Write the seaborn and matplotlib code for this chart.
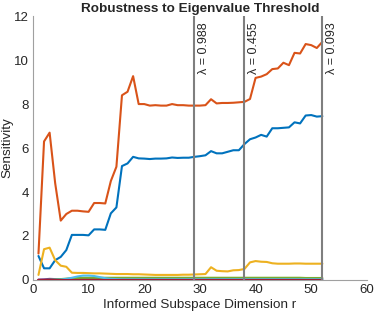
import numpy as np
import pandas as pd
import matplotlib
matplotlib.use("Agg")
import matplotlib.pyplot as plt
import seaborn as sns

# data (r = 1..52)
r = list(range(1, 53))

blue = [1.09, 0.53, 0.53, 0.9, 1.05, 1.36, 2.05, 2.05, 2.05, 2.03,
        2.3, 2.3, 2.28, 3.03, 3.3, 5.18, 5.3, 5.6, 5.53, 5.52,
        5.5, 5.52, 5.52, 5.53, 5.57, 5.55, 5.56, 5.56, 5.6, 5.63,
        5.67, 5.86, 5.76, 5.76, 5.83, 5.9, 5.9, 6.18, 6.4, 6.48,
        6.6, 6.52, 6.9, 6.9, 6.92, 6.94, 7.17, 7.12, 7.48, 7.5,
        7.43, 7.45]

orange = [1.2, 6.3, 6.7, 4.4, 2.7, 3.0, 3.15, 3.15, 3.12, 3.1,
          3.5, 3.5, 3.48, 4.5, 5.15, 8.4, 8.56, 9.27, 8.0, 8.0,
          7.93, 7.95, 7.93, 7.93, 8.0, 7.95, 7.95, 7.93, 7.93, 7.93,
          7.95, 8.22, 8.03, 8.05, 8.05, 8.06, 8.08, 8.1, 8.23, 9.19,
          9.25, 9.36, 9.59, 9.62, 9.88, 9.77, 10.33, 10.3, 10.73, 10.68,
          10.55, 10.83]

yellow = [0.23, 1.4, 1.47, 0.9, 0.65, 0.6, 0.33, 0.32, 0.32, 0.31,
          0.3, 0.3, 0.29, 0.28, 0.27, 0.27, 0.27, 0.26, 0.26, 0.25,
          0.24, 0.23, 0.23, 0.23, 0.23, 0.23, 0.24, 0.24, 0.25, 0.26,
          0.27, 0.58, 0.42, 0.4, 0.39, 0.44, 0.45, 0.5, 0.8, 0.86,
          0.83, 0.82, 0.76, 0.74, 0.74, 0.74, 0.75, 0.75, 0.74, 0.74,
          0.74, 0.74]

purple = [0.02, 0.03, 0.05, 0.04, 0.04, 0.04, 0.04, 0.04, 0.05, 0.06,
          0.06, 0.06, 0.05, 0.05, 0.04, 0.04, 0.04, 0.04, 0.04, 0.04,
          0.04, 0.04, 0.04, 0.04, 0.04, 0.04, 0.04, 0.04, 0.04, 0.04,
          0.04, 0.04, 0.04, 0.04, 0.04, 0.04, 0.04, 0.04, 0.04, 0.04,
          0.04, 0.04, 0.04, 0.04, 0.04, 0.04, 0.04, 0.04, 0.04, 0.04,
          0.04, 0.04]

green = [0.0, 0.0, 0.01, 0.02, 0.04, 0.06, 0.08, 0.09, 0.1, 0.1,
         0.1, 0.1, 0.1, 0.1, 0.1, 0.1, 0.1, 0.1, 0.1, 0.1,
         0.1, 0.1, 0.1, 0.1, 0.1, 0.1, 0.1, 0.1, 0.1, 0.1,
         0.1, 0.1, 0.1, 0.1, 0.1, 0.1, 0.1, 0.1, 0.1, 0.1,
         0.1, 0.1, 0.1, 0.1, 0.1, 0.1, 0.1, 0.1, 0.09, 0.09,
         0.09, 0.09]

lightblue = [0.0, 0.0, 0.0, 0.01, 0.02, 0.05, 0.1, 0.16, 0.2, 0.2,
             0.18, 0.13, 0.08, 0.05, 0.04, 0.03, 0.03, 0.03, 0.03, 0.03,
             0.03, 0.03, 0.03, 0.03, 0.03, 0.03, 0.03, 0.03, 0.03, 0.03,
             0.03, 0.03, 0.03, 0.03, 0.03, 0.03, 0.03, 0.03, 0.03, 0.03,
             0.03, 0.03, 0.03, 0.03, 0.03, 0.03, 0.03, 0.03, 0.03, 0.03,
             0.03, 0.03]

darkred = [0.01] * 52

thresholds = [29, 38, 52]
lambdas = ["0.988", "0.455", "0.093"]

series = {"s1": blue, "s2": orange, "s3": yellow, "s4": purple,
          "s5": green, "s6": lightblue, "s7": darkred}
colors = ["#0072BD", "#D95319", "#EDB120", "#7E2F8E",
          "#77AC30", "#4DBEEE", "#A2142F"]

df = pd.DataFrame(series)
df["r"] = r
long = df.melt(id_vars="r", var_name="series", value_name="sens")

sns.set_style("white")
plt.rcParams['font.family'] = ['Liberation Sans', 'DejaVu Sans']

fig = plt.figure(figsize=(3.74, 3.16), dpi=100)
ax = fig.add_axes([0.088, 0.114, 0.893, 0.835])

sns.lineplot(data=long, x="r", y="sens", hue="series",
             palette=colors, linewidth=1.5, legend=False, ax=ax)

for t, lam in zip(thresholds, lambdas):
    ax.axvline(t, color="#7f7f7f", linewidth=1.5, zorder=5)
    ax.text(t + 0.7, 11.72, "\u03bb = " + lam, rotation=90,
            ha="left", va="top", fontsize=9, color="#262626")

ax.set_xlim(0, 60)
ax.set_ylim(0, 12)
ax.set_xticks(range(0, 61, 10))
ax.set_yticks(range(0, 13, 2))
ax.tick_params(direction="in", length=3, width=0.6, labelsize=9.5,
               colors="#262626", pad=3)
for side in ["top", "right"]:
    ax.spines[side].set_visible(False)
for side in ["left", "bottom"]:
    ax.spines[side].set_color("#a0a0a0")
    ax.spines[side].set_linewidth(0.8)

ax.set_xlabel("Informed Subspace Dimension r", fontsize=9.7, color="#262626", labelpad=2)
ax.set_ylabel("Sensitivity", fontsize=9.7, color="#262626", labelpad=0.5)
ax.set_title("Robustness to Eigenvalue Threshold", fontsize=9.7,
             fontweight="bold", pad=3)

fig.savefig("out.png", dpi=100)
